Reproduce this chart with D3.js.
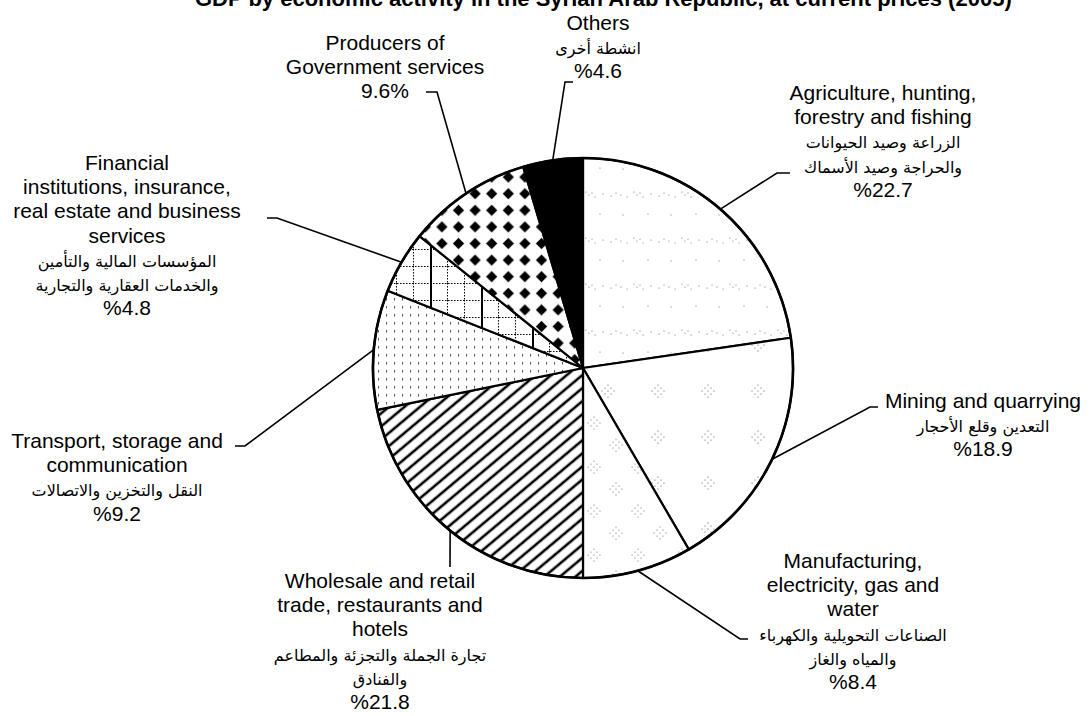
<!DOCTYPE html>
<html><head><meta charset="utf-8">
<script src="https://cdn.jsdelivr.net/npm/d3@7"></script>
<style>
html,body{margin:0;padding:0;background:#fff;}
svg{display:block;}
text{font-family:"Liberation Sans", Arial, sans-serif; fill:#000;}
.ar{font-family:"DejaVu Sans", sans-serif;}
</style></head><body>
<svg id="chart" width="1092" height="716"></svg>
<script>
const title = "GDP  by economic activity  in the Syrian Arab Republic, at current prices (2005)";
const categories = ["Agriculture", "Mining", "Manufacturing", "Wholesale", "Transport", "Financial", "Government", "Others"];
const shares = [22.7, 18.9, 8.4, 21.8, 9.2, 4.8, 9.6, 4.6];
const englishLines = [
  ["Agriculture, hunting,", "forestry and fishing"],
  ["Mining and quarrying"],
  ["Manufacturing,", "electricity, gas and", "water"],
  ["Wholesale and retail", "trade, restaurants and", "hotels"],
  ["Transport, storage and", "communication"],
  ["Financial", "institutions, insurance,", "real estate and business", "services"],
  ["Producers of", "Government services"],
  ["Others"]
];
const arabicLines = [
  ["الزراعة وصيد الحيوانات", "والحراجة  وصيد الأسماك"],
  ["التعدين وقلع الأحجار"],
  ["الصناعات التحويلية والكهرباء", "والمياه والغاز"],
  ["تجارة الجملة والتجزئة والمطاعم", "والفنادق"],
  ["النقل والتخزين والاتصالات"],
  ["المؤسسات المالية والتأمين", "والخدمات العقارية والتجارية"],
  [],
  ["انشطة أخرى"]
];
const fills = ["url(#pAgri)", "url(#pMining)", "url(#pManuf)", "url(#pHatch)", "url(#pTrans)", "url(#pGrid)", "url(#pDiam)", "#000"];

// layout (positions only)
const cx = 583, cy = 368, R = 210, LH = 24.2;
const layout = [
  {x:883, y:100, elbow:[777,173], end:[790,173]},
  {x:983, y:408, elbow:[870,407], end:[878,407]},
  {x:853, y:568, elbow:[740,639], end:[748,639]},
  {x:380, y:588, elbow:[450,567], end:null},
  {x:117, y:448, elbow:[245,446], end:[235,446]},
  {x:127, y:170, elbow:[277,218], end:[267,218]},
  {x:385, y:50, elbow:[437,92], end:[426,92], pctAfter:true},
  {x:598, y:30, elbow:[565,82], end:[573,82]}
];

const svg = d3.select("#chart");
const defs = svg.append("defs");

{
  const p = defs.append("pattern").attr("id","pAgri").attr("patternUnits","userSpaceOnUse")
    .attr("width",48).attr("height",46);
  p.append("rect").attr("width",48).attr("height",46).attr("fill","#fff");
  [[3,8],[6,11],[9,9],[12,13],[20,10],[28,12],[33,9],[38,11],[44,13],[17,30],[40,31]].forEach(([x,y])=>
    p.append("circle").attr("cx",x).attr("cy",y).attr("r",0.6).attr("fill","#666"));
}
function cluster(id, w, h, centers, col){
  const p = defs.append("pattern").attr("id",id).attr("patternUnits","userSpaceOnUse")
    .attr("width",w).attr("height",h);
  p.append("rect").attr("width",w).attr("height",h).attr("fill","#fff");
  centers.forEach(([ccx,ccy])=>{
    for(let i=-3;i<=3;i++) for(let j=-3;j<=3;j++){
      if(Math.abs(i)+Math.abs(j)<=3 && (i+j)%2===0)
        p.append("circle").attr("cx",ccx+i*3).attr("cy",ccy+j*3).attr("r",0.6).attr("fill",col);
    }
  });
}
cluster("pMining", 50, 46, [[25,23]], "#555");
cluster("pManuf", 44, 44, [[11,11],[33,33]], "#666");
{
  const p = defs.append("pattern").attr("id","pHatch").attr("patternUnits","userSpaceOnUse")
    .attr("width",10).attr("height",10).attr("patternTransform","rotate(-40)");
  p.append("rect").attr("width",10).attr("height",10).attr("fill","#fff");
  p.append("line").attr("x1",0).attr("x2",10).attr("y1",5).attr("y2",5).attr("stroke","#000").attr("stroke-width",2.6);
}
{
  const p = defs.append("pattern").attr("id","pTrans").attr("patternUnits","userSpaceOnUse")
    .attr("width",8).attr("height",8);
  p.append("rect").attr("width",8).attr("height",8).attr("fill","#fff");
  p.append("rect").attr("x",3).attr("y",2).attr("width",1).attr("height",2.5).attr("fill","#555");
}
{
  const p = defs.append("pattern").attr("id","pGrid").attr("patternUnits","userSpaceOnUse")
    .attr("width",51).attr("height",17);
  p.append("rect").attr("width",51).attr("height",17).attr("fill","#fff");
  [0,17,34].forEach(x=>p.append("line").attr("x1",x+0.5).attr("x2",x+0.5).attr("y1",0).attr("y2",17)
    .attr("stroke","#000").attr("stroke-width",1).attr("stroke-dasharray","1.5,1.5"));
  p.append("line").attr("x1",0).attr("x2",51).attr("y1",0.5).attr("y2",0.5)
    .attr("stroke","#000").attr("stroke-width",1).attr("stroke-dasharray","1.5,1.5");
  p.append("line").attr("x1",1).attr("x2",1).attr("y1",0).attr("y2",17).attr("stroke","#000").attr("stroke-width",2);
}
{
  const s = 16.6, h = 5.6;
  const p = defs.append("pattern").attr("id","pDiam").attr("patternUnits","userSpaceOnUse")
    .attr("width",s).attr("height",s);
  p.append("rect").attr("width",s).attr("height",s).attr("fill","#fff");
  p.append("path").attr("d",`M${s/2},${s/2-h}L${s/2+h},${s/2}L${s/2},${s/2+h}L${s/2-h},${s/2}Z`).attr("fill","#000");
}

// Title (cut at top, as in the reference)
svg.append("text").attr("x",195).attr("y",6).attr("font-size",22).attr("font-weight","bold").text(title);

const pie = d3.pie().sort(null).value(d=>d);
const arcs = pie(shares);
const arc = d3.arc().innerRadius(0).outerRadius(R);
const edge = d3.arc().innerRadius(R).outerRadius(R);

const g = svg.append("g").attr("transform",`translate(${cx},${cy})`);
g.selectAll("path.slice").data(arcs).join("path").attr("class","slice")
  .attr("d",arc).attr("fill",(d,i)=>fills[i]).attr("stroke","#000").attr("stroke-width",2.2).attr("stroke-linejoin","round");
g.append("circle").attr("r",R).attr("fill","none").attr("stroke","#000").attr("stroke-width",2.6);

arcs.forEach((a,i)=>{
  const L = layout[i];
  const c = edge.centroid(a);
  const pts = [[cx+c[0], cy+c[1]], L.elbow];
  if(L.end) pts.push(L.end);
  svg.append("path").attr("d", d3.line()(pts)).attr("fill","none").attr("stroke","#000").attr("stroke-width",1.6);
});

arcs.forEach((a,i)=>{
  const L = layout[i];
  const t = svg.append("g").attr("transform",`translate(${L.x},${L.y})`);
  let k = 0;
  englishLines[i].forEach(s=>{
    t.append("text").attr("y",k*LH).attr("text-anchor","middle").attr("font-size",21).text(s); k++;
  });
  arabicLines[i].forEach(s=>{
    t.append("text").attr("class","ar").attr("y",k*LH).attr("text-anchor","middle").attr("font-size",16)
      .attr("direction","rtl").text(s); k++;
  });
  const v = a.data;
  t.append("text").attr("y",k*LH).attr("text-anchor","middle").attr("font-size",21)
    .text(L.pctAfter ? `${v}%` : `%${v}`);
});
</script>
</body></html>
